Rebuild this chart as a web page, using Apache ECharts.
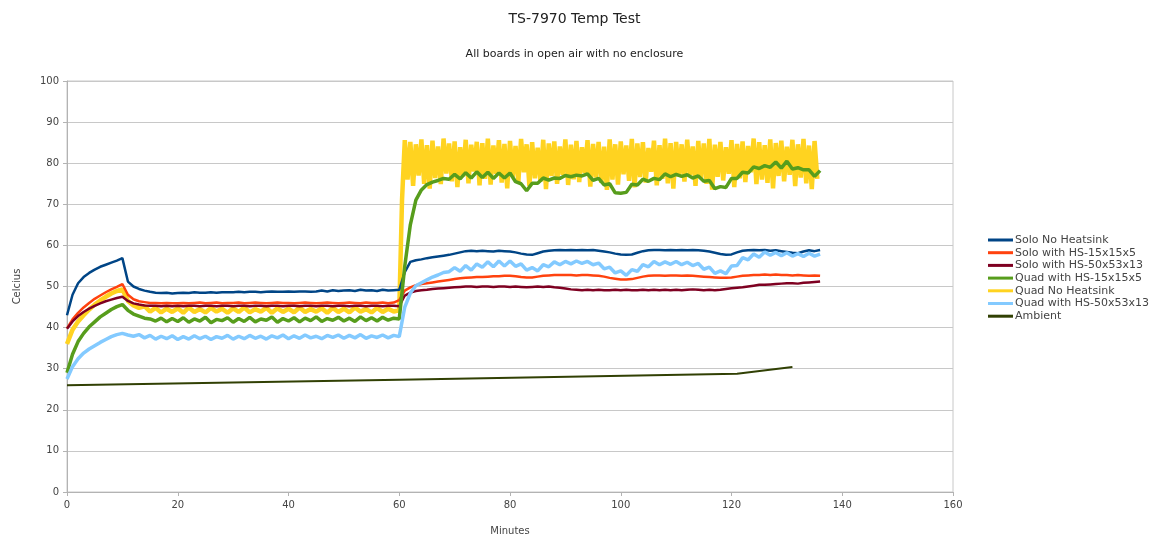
<!DOCTYPE html>
<html>
<head>
<meta charset="utf-8">
<title>TS-7970 Temp Test</title>
<script src="https://cdn.jsdelivr.net/npm/echarts@6/dist/echarts.min.js"></script>
<style>
	html, body { margin: 0; padding: 0; background: #fff; }
	#chartContainer { width: 1149px; height: 535px; }
</style>
</head>
<body>
<div id="chartContainer"></div>
<script>
// sample times (minutes) shared by most series
var minutes = [
	0, 1, 2, 3, 4, 5, 6, 7, 8, 9,
	10, 11, 12, 13, 14, 15, 16, 17, 18, 19,
	20, 21, 22, 23, 24, 25, 26, 27, 28, 29,
	30, 31, 32, 33, 34, 35, 36, 37, 38, 39,
	40, 41, 42, 43, 44, 45, 46, 47, 48, 49,
	50, 51, 52, 53, 54, 55, 56, 57, 58, 59,
	60, 61, 62, 63, 64, 65, 66, 67, 68, 69,
	70, 71, 72, 73, 74, 75, 76, 77, 78, 79,
	80, 81, 82, 83, 84, 85, 86, 87, 88, 89,
	90, 91, 92, 93, 94, 95, 96, 97, 98, 99,
	100, 101, 102, 103, 104, 105, 106, 107, 108, 109,
	110, 111, 112, 113, 114, 115, 116, 117, 118, 119,
	120, 121, 122, 123, 124, 125, 126, 127, 128, 129,
	130, 131, 132, 133, 134, 135, 136
];
// half-minute sample times for the noisy "Quad No Heatsink" tail
var halfMinutes = [
	60.5, 61, 61.5, 62, 62.5, 63, 63.5, 64, 64.5, 65,
	65.5, 66, 66.5, 67, 67.5, 68, 68.5, 69, 69.5, 70,
	70.5, 71, 71.5, 72, 72.5, 73, 73.5, 74, 74.5, 75,
	75.5, 76, 76.5, 77, 77.5, 78, 78.5, 79, 79.5, 80,
	80.5, 81, 81.5, 82, 82.5, 83, 83.5, 84, 84.5, 85,
	85.5, 86, 86.5, 87, 87.5, 88, 88.5, 89, 89.5, 90,
	90.5, 91, 91.5, 92, 92.5, 93, 93.5, 94, 94.5, 95,
	95.5, 96, 96.5, 97, 97.5, 98, 98.5, 99, 99.5, 100,
	100.5, 101, 101.5, 102, 102.5, 103, 103.5, 104, 104.5, 105,
	105.5, 106, 106.5, 107, 107.5, 108, 108.5, 109, 109.5, 110,
	110.5, 111, 111.5, 112, 112.5, 113, 113.5, 114, 114.5, 115,
	115.5, 116, 116.5, 117, 117.5, 118, 118.5, 119, 119.5, 120,
	120.5, 121, 121.5, 122, 122.5, 123, 123.5, 124, 124.5, 125,
	125.5, 126, 126.5, 127, 127.5, 128, 128.5, 129, 129.5, 130,
	130.5, 131, 131.5, 132, 132.5, 133, 133.5, 134, 134.5, 135,
	135.5
];
var ambientMinutes = [0, 60, 121, 131];

var seriesNames = ['Solo No Heatsink', 'Solo with HS-15x15x5', 'Solo with HS-50x53x13',
	'Quad with HS-15x15x5', 'Quad No Heatsink', 'Quad with HS-50x53x13', 'Ambient'];
var seriesColors = ['#004586', '#ff420e', '#7e0021', '#579d1c', '#ffd320', '#83caff', '#314004'];

var soloNoHs = [
	43, 48, 50.8, 52.3, 53.3, 54.1, 54.8, 55.3, 55.8, 56.3,
	56.9, 51.2, 50, 49.4, 49, 48.7, 48.5, 48.4, 48.5, 48.3,
	48.4, 48.5, 48.4, 48.6, 48.5, 48.5, 48.6, 48.5, 48.6, 48.6,
	48.6, 48.7, 48.6, 48.7, 48.7, 48.6, 48.7, 48.8, 48.7, 48.7,
	48.8, 48.7, 48.8, 48.8, 48.7, 48.8, 49, 48.8, 49.1, 48.9,
	49, 49.1, 48.9, 49.2, 49, 49.1, 48.9, 49.2, 49, 49.1,
	49.2, 53.5, 56, 56.4, 56.6, 56.9, 57.1, 57.3, 57.5, 57.7,
	58, 58.3, 58.6, 58.7, 58.6, 58.7, 58.6, 58.5, 58.7, 58.6,
	58.5, 58.3, 58, 57.8, 57.7, 58.1, 58.5, 58.7, 58.8, 58.9,
	58.8, 58.9, 58.8, 58.9, 58.8, 58.9, 58.7, 58.5, 58.3, 58,
	57.8, 57.7, 57.8, 58.2, 58.6, 58.8, 58.9, 58.9, 58.8, 58.9,
	58.8, 58.9, 58.8, 58.9, 58.8, 58.7, 58.5, 58.2, 57.9, 57.7,
	57.8, 58.3, 58.7, 58.8, 58.9, 58.8, 58.9, 58.7, 58.8, 58.6,
	58.4, 58.2, 58.1, 58.5, 58.8, 58.6, 58.9
];
var solo15 = [
	39.8, 42, 43.6, 44.9, 46, 47, 47.8, 48.6, 49.3, 49.9,
	50.6, 48, 46.9, 46.4, 46.2, 46, 46, 45.9, 46, 45.9,
	45.9, 46, 45.9, 46, 46.1, 45.9, 46, 46.1, 45.9, 46,
	46, 46.1, 45.9, 46, 46.1, 46, 45.9, 46, 46.1, 46,
	46, 45.9, 46, 46.1, 46, 45.9, 46, 46.1, 46, 45.9,
	46, 46.1, 46, 45.9, 46.1, 46, 46, 46.1, 45.9, 46.1,
	46.7, 49, 49.8, 50.3, 50.6, 50.8, 51, 51.2, 51.4, 51.6,
	51.8, 52, 52.1, 52.2, 52.3, 52.3, 52.4, 52.5, 52.5, 52.6,
	52.6, 52.5, 52.3, 52.2, 52.2, 52.4, 52.6, 52.7, 52.8, 52.8,
	52.8, 52.8, 52.7, 52.8, 52.8, 52.7, 52.6, 52.4, 52.1, 51.9,
	51.7, 51.7, 51.8, 52.1, 52.4, 52.6, 52.7, 52.7, 52.6, 52.7,
	52.7, 52.6, 52.7, 52.6, 52.5, 52.4, 52.3, 52.2, 52.1, 52.1,
	52.2, 52.4, 52.6, 52.7, 52.8, 52.8, 52.9, 52.8, 52.9, 52.8,
	52.8, 52.7, 52.8, 52.7, 52.6, 52.7, 52.6
];
var solo50 = [
	39.7, 41.5, 42.8, 43.8, 44.6, 45.3, 45.9, 46.4, 46.8, 47.2,
	47.5, 46.5, 45.9, 45.6, 45.4, 45.3, 45.3, 45.2, 45.3, 45.2,
	45.3, 45.2, 45.3, 45.3, 45.2, 45.3, 45.3, 45.2, 45.3, 45.3,
	45.2, 45.3, 45.3, 45.2, 45.3, 45.3, 45.2, 45.3, 45.3, 45.2,
	45.3, 45.3, 45.2, 45.3, 45.3, 45.2, 45.3, 45.3, 45.2, 45.3,
	45.3, 45.2, 45.3, 45.3, 45.2, 45.3, 45.3, 45.2, 45.3, 45.3,
	45.2, 47.8, 48.5, 48.9, 49.1, 49.2, 49.4, 49.5, 49.6, 49.7,
	49.8, 49.9, 50, 50, 49.9, 50, 50, 49.9, 50, 50,
	49.9, 50, 49.9, 49.8, 49.9, 50, 49.9, 50, 49.8, 49.7,
	49.5, 49.3, 49.2, 49.1, 49.2, 49.1, 49.2, 49.1, 49.1, 49.2,
	49.1, 49.2, 49.1, 49.1, 49.2, 49.1, 49.2, 49.1, 49.2, 49.1,
	49.2, 49.1, 49.2, 49.3, 49.2, 49.1, 49.2, 49.1, 49.2, 49.4,
	49.6, 49.7, 49.8, 50, 50.2, 50.4, 50.4, 50.5, 50.6, 50.7,
	50.8, 50.8, 50.7, 50.9, 51, 51.1, 51.2
];
var quad15 = [
	29, 33.5, 36.6, 38.6, 40.2, 41.4, 42.6, 43.5, 44.4, 45.1,
	45.6, 44.2, 43.3, 42.8, 42.3, 42.1, 41.6, 42.3, 41.4, 42.2,
	41.5, 42.4, 41.3, 42.1, 41.6, 42.5, 41.2, 42, 41.7, 42.4,
	41.3, 42.2, 41.5, 42.5, 41.4, 42.1, 41.8, 42.6, 41.3, 42.2,
	41.6, 42.4, 41.4, 42.3, 41.7, 42.6, 41.5, 42.2, 41.8, 42.5,
	41.6, 42.3, 41.5, 42.6, 41.7, 42.4, 41.6, 42.5, 41.8, 42.3,
	42.1, 55, 65, 71, 73.5, 74.8, 75.4, 75.8, 76.3, 76.1,
	77.3, 76.2, 77.7, 76.4, 77.9, 76.5, 77.8, 76.3, 77.6, 76.4,
	77.6, 75.5, 75, 73.3, 75.1, 75.1, 76.4, 75.9, 76.4, 76.3,
	77, 76.7, 77.1, 76.9, 77.4, 75.8, 76.3, 74.7, 75, 72.8,
	72.7, 72.9, 74.9, 74.7, 76.1, 75.6, 76.3, 76, 77.4, 76.7,
	77.3, 76.8, 77.2, 76.4, 76.9, 75.6, 75.8, 73.8, 74.3, 74.1,
	76.3, 76.3, 77.8, 77.6, 79.1, 78.7, 79.4, 79, 80.3, 78.8,
	80.5, 78.6, 78.9, 78.4, 78.4, 76.8, 78.2
];
// Quad No Heatsink, 0..60 at one-minute samples
var quadNoHsEarly = [
	36, 39.5, 41.5, 43, 44.4, 45.6, 46.6, 47.5, 48.3, 48.9,
	49.3, 46.5, 45.4, 44.8, 45.2, 43.9, 44.8, 43.7, 44.6, 43.8,
	44.7, 43.6, 44.9, 43.8, 44.5, 43.7, 44.8, 43.9, 44.6, 43.6,
	44.7, 43.8, 44.9, 43.7, 44.5, 43.9, 44.8, 43.6, 44.7, 43.8,
	44.6, 43.7, 44.9, 43.8, 44.5, 43.9, 44.7, 43.6, 44.8, 43.8,
	44.6, 43.7, 44.9, 43.9, 44.5, 43.7, 44.8, 43.8, 44.6, 43.9,
	44.2
];
// Quad No Heatsink, 60.5..135.5 at half-minute samples
var quadNoHsLate = [
	71, 85.6, 76, 85.2, 74.5, 84.6, 77, 85.8, 75, 84.4,
	73.8, 85.5, 76.4, 84.1, 74.9, 86, 77.5, 84.8, 75.6, 85.3,
	74.2, 83.9, 76.8, 85.7, 75.1, 84.5, 78, 85.2, 74.6, 84.9,
	76.2, 86, 74.8, 84.3, 77.4, 85.6, 75.3, 84.7, 73.9, 85.4,
	76.7, 84.2, 75.2, 85.9, 77.8, 84.6, 74.4, 85.1, 76.3, 83.8,
	75.5, 85.7, 73.7, 84.8, 76.9, 85.3, 75, 84.1, 77.2, 85.8,
	74.7, 84.5, 76.1, 85.4, 75.4, 83.9, 77.6, 85.6, 74.3, 84.7,
	76.5, 85.2, 75.2, 84, 73.5, 85.8, 76, 84.6, 74.8, 85.3,
	77.3, 84.3, 75.7, 85.9, 74.1, 84.8, 76.6, 85.1, 75.3, 83.7,
	77.9, 85.5, 74.6, 84.4, 76.2, 86, 75.1, 84.9, 73.8, 85.2,
	76.8, 84.6, 75.5, 85.7, 77.1, 84.1, 74.5, 85.4, 76.4, 84.8,
	75, 85.9, 73.6, 84.5, 76.7, 85.2, 75.8, 83.9, 77.4, 85.6,
	74.2, 84.7, 76.3, 85.3, 75.4, 84.2, 77.8, 86, 74.9, 85.1,
	76, 84.4, 75.2, 85.8, 73.9, 84.9, 76.9, 85.5, 75.6, 84,
	77.2, 85.7, 74.4, 84.6, 76.5, 85.9, 75.1, 84.3, 73.7, 85.4,
	76.2
];
var quad50 = [
	27.5, 30.5, 32.4, 33.8, 34.8, 35.6, 36.4, 37.1, 37.8, 38.3,
	38.6, 38.2, 37.9, 38.3, 37.5, 38.1, 37.2, 37.9, 37.3, 38,
	37.1, 37.8, 37.2, 38, 37.3, 37.9, 37.1, 37.8, 37.4, 38.1,
	37.2, 37.9, 37.3, 38.1, 37.4, 37.9, 37.2, 38, 37.5, 38.2,
	37.3, 38, 37.4, 38.2, 37.5, 37.9, 37.3, 38.1, 37.6, 38.2,
	37.4, 38.1, 37.5, 38.3, 37.4, 38, 37.6, 38.2, 37.5, 38.1,
	37.8, 45, 48.4, 50.2, 50.9, 51.6, 52.3, 52.8, 53.4, 53.6,
	54.6, 53.7, 55.1, 54, 55.5, 54.7, 56, 54.8, 56.2, 55,
	56.2, 54.9, 55.5, 54, 54.6, 53.8, 55.3, 54.8, 56, 55.3,
	56.1, 55.5, 56.2, 55.6, 56.1, 55.3, 55.7, 54.3, 54.7, 53.3,
	53.8, 52.7, 54.1, 53.7, 55.3, 54.8, 56.1, 55.3, 56, 55.4,
	56.1, 55.3, 55.9, 55.1, 55.6, 54.2, 54.7, 53.2, 53.8, 53.1,
	55, 55.1, 57, 56.5, 57.9, 57.1, 58.4, 57.6, 58.3, 57.5,
	58.2, 57.4, 58, 57.3, 58.1, 57.4, 57.9
];
var ambient = [26, 27.3, 28.8, 30.4];

var tempChart = {
	containerId: "chartContainer",
	fontName: 'DejaVu Sans',
	/**
	 * 把时间和数值配成点
	 */
	pair: function(times, values) {
		var ret = [];
		for (var i = 0; i < values.length; i++) {
			ret.push([times[i], values[i]]);
		}
		return ret;
	},
	lineSeries: function(idx, data, z, width) {
		return {
			name: seriesNames[idx],
			type: 'line',
			data: data,
			symbol: 'none',
			z: z,
			lineStyle: { color: seriesColors[idx], width: width },
			itemStyle: { color: seriesColors[idx] }
		};
	},
	showChart: function() {
		var myChart = echarts.init(document.getElementById(tempChart.containerId));
		var quadNoHs = tempChart.pair(minutes, quadNoHsEarly).concat(tempChart.pair(halfMinutes, quadNoHsLate));
		var f = tempChart.fontName;
		var axisText = { color: '#444', fontSize: 10, fontFamily: f };
		var option = {
			animation: false,
			backgroundColor: '#fff',
			title: [
				{ text: 'TS-7970 Temp Test', left: 'center', top: 7,
				  textStyle: { fontSize: 14, fontWeight: 'normal', color: '#222', fontFamily: f } },
				{ text: 'All boards in open air with no enclosure', left: 'center', top: 44,
				  textStyle: { fontSize: 11, fontWeight: 'normal', color: '#222', fontFamily: f } }
			],
			legend: {
				orient: 'vertical',
				left: 988,
				top: 234,
				padding: 0,
				icon: 'rect',
				itemWidth: 25,
				itemHeight: 3,
				itemGap: 0.7,
				data: seriesNames,
				textStyle: { fontSize: 11, lineHeight: 12, color: '#444', fontFamily: f, padding: [0, 0, 0, -3] }
			},
			grid: {
				left: 67, right: 196, top: 81, bottom: 43,
				outerBoundsMode: 'none',
				show: true, borderColor: '#c8c8c8', borderWidth: 1
			},
			xAxis: {
				type: 'value',
				min: 0, max: 160, interval: 20,
				name: 'Minutes',
				nameLocation: 'middle',
				nameGap: 34,
				nameTextStyle: axisText,
				axisLine: { show: true, lineStyle: { color: '#b3b3b3' } },
				axisTick: { show: true, length: 4, lineStyle: { color: '#b3b3b3' } },
				axisLabel: { margin: 8, color: '#444', fontSize: 10, fontFamily: f },
				splitLine: { show: false }
			},
			yAxis: {
				type: 'value',
				min: 0, max: 100, interval: 10,
				name: 'Celcius',
				nameLocation: 'middle',
				nameGap: 45,
				nameTextStyle: axisText,
				axisLine: { show: true, lineStyle: { color: '#b3b3b3' } },
				axisTick: { show: true, length: 4, lineStyle: { color: '#b3b3b3' } },
				axisLabel: { margin: 8, color: '#444', fontSize: 10, fontFamily: f },
				splitLine: { show: true, lineStyle: { color: '#c8c8c8' } }
			},
			series: [
				tempChart.lineSeries(0, tempChart.pair(minutes, soloNoHs), 3, 2.5),
				tempChart.lineSeries(1, tempChart.pair(minutes, solo15), 3, 2.5),
				tempChart.lineSeries(2, tempChart.pair(minutes, solo50), 3, 2.5),
				tempChart.lineSeries(3, tempChart.pair(minutes, quad15), 3, 3.5),
				tempChart.lineSeries(4, quadNoHs, 2, 4.5),
				tempChart.lineSeries(5, tempChart.pair(minutes, quad50), 3, 3.5),
				tempChart.lineSeries(6, tempChart.pair(ambientMinutes, ambient), 4, 2)
			]
		};
		myChart.setOption(option);
	}
};

tempChart.showChart();
</script>
</body>
</html>
